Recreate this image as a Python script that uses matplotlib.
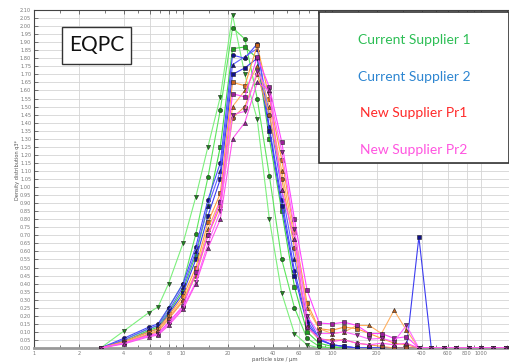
import matplotlib
matplotlib.use("Agg")
import matplotlib.pyplot as plt
from matplotlib.patches import Rectangle
from matplotlib.ticker import FixedLocator, NullFormatter, MultipleLocator

# particle size classes (µm)
sizes = [2.8, 4.0, 5.9, 6.8, 8.0, 10, 12.2, 14.7, 17.8, 21.5, 26, 31.5, 38, 46, 56, 68,
         82, 100, 121, 147, 178, 215, 261, 316, 383, 464, 562, 681, 825, 1000, 1212, 1468]

# Current Supplier 1 (green)
g1 = [0, 0.105, 0.22, 0.255, 0.40, 0.65, 0.94, 1.25, 1.56, 2.07, 1.70, 1.42, 0.80, 0.34, 0.09, 0.02,
      0, 0, 0, 0, 0, 0, 0, 0, 0, 0, 0, 0, 0, 0, 0, 0]
g2 = [0, 0.05, 0.12, 0.14, 0.25, 0.40, 0.71, 1.06, 1.48, 1.99, 1.92, 1.55, 1.07, 0.55, 0.25, 0.06,
      0.01, 0, 0, 0, 0, 0, 0, 0, 0, 0, 0, 0, 0, 0, 0, 0]
g3 = [0, 0.04, 0.11, 0.13, 0.22, 0.36, 0.58, 0.88, 1.25, 1.86, 1.87, 1.80, 1.30, 0.85, 0.38, 0.10,
      0.03, 0.01, 0, 0, 0, 0, 0, 0, 0, 0, 0, 0, 0, 0, 0, 0]
# Current Supplier 2 (blue)
b1 = [0, 0.06, 0.13, 0.15, 0.25, 0.40, 0.63, 0.92, 1.15, 1.82, 1.80, 1.89, 1.37, 0.92, 0.48, 0.17,
      0.055, 0.02, 0.01, 0, 0, 0, 0, 0, 0, 0, 0, 0, 0, 0, 0, 0]
b2 = [0, 0.05, 0.12, 0.14, 0.23, 0.38, 0.60, 0.88, 1.10, 1.76, 1.81, 1.86, 1.45, 0.98, 0.55, 0.20,
      0.06, 0.02, 0.01, 0, 0, 0, 0, 0, 0, 0, 0, 0, 0, 0, 0, 0]
b3 = [0, 0.04, 0.10, 0.12, 0.21, 0.34, 0.55, 0.82, 1.05, 1.70, 1.74, 1.80, 1.35, 0.88, 0.45, 0.15,
      0.05, 0.02, 0.01, 0, 0, 0, 0, 0, 0.69, 0, 0, 0, 0, 0, 0, 0]
# New Supplier Pr1 (orange)
o1 = [0, 0.04, 0.10, 0.12, 0.20, 0.32, 0.50, 0.78, 0.96, 1.65, 1.63, 1.88, 1.55, 1.17, 0.72, 0.28,
      0.12, 0.11, 0.13, 0.12, 0.09, 0.06, 0.03, 0.02, 0, 0, 0, 0, 0, 0, 0, 0]
o2 = [0, 0.035, 0.09, 0.11, 0.19, 0.30, 0.47, 0.74, 0.92, 1.50, 1.60, 1.75, 1.50, 1.10, 0.68, 0.25,
      0.12, 0.09, 0.10, 0.14, 0.14, 0.09, 0.235, 0.11, 0, 0, 0, 0, 0, 0, 0, 0]
o3 = [0, 0.03, 0.085, 0.10, 0.18, 0.29, 0.45, 0.70, 0.88, 1.43, 1.50, 1.70, 1.45, 1.05, 0.62, 0.13,
      0.055, 0.05, 0.05, 0.03, 0.02, 0.01, 0, 0, 0, 0, 0, 0, 0, 0, 0, 0]
# New Supplier Pr2 (magenta)
m1 = [0, 0.03, 0.08, 0.09, 0.16, 0.26, 0.47, 0.70, 0.91, 1.58, 1.56, 1.81, 1.62, 1.28, 0.80, 0.36,
      0.155, 0.15, 0.16, 0.14, 0.09, 0.09, 0.06, 0.07, 0, 0, 0, 0, 0, 0, 0, 0]
m2 = [0, 0.03, 0.075, 0.085, 0.15, 0.25, 0.41, 0.65, 0.85, 1.45, 1.47, 1.72, 1.58, 1.22, 0.74, 0.20,
      0.09, 0.09, 0.10, 0.08, 0.055, 0.06, 0.04, 0.14, 0, 0, 0, 0, 0, 0, 0, 0]
m3 = [0, 0.025, 0.07, 0.08, 0.14, 0.24, 0.40, 0.62, 0.80, 1.30, 1.40, 1.65, 1.60, 0.98, 0.68, 0.13,
      0.06, 0.04, 0.05, 0.03, 0.02, 0.03, 0.02, 0.03, 0, 0, 0, 0, 0, 0, 0, 0]

legend_labels = ["Current Supplier 1", "Current Supplier 2", "New Supplier Pr1", "New Supplier Pr2"]
x_tick_values = [1, 2, 4, 6, 8, 10, 20, 40, 60, 80, 100, 200, 400, 600, 800, 1000]
x_tick_labels = ["1", "2", "4", "6", "8", "10", "20", "40", "60", "80", "100", "200", "400", "600", "800", "1000"]

series = [
    (g1, "#7CF07C", "v", "#1E8C1E"), (g2, "#5CE65C", "o", "#1E8C1E"), (g3, "#44DD44", "s", "#1E9C1E"),
    (b1, "#4A4AFF", "o", "#10108A"), (b2, "#6060FF", "^", "#10108A"), (b3, "#3C3CF0", "s", "#10108A"),
    (o1, "#FFA040", "s", "#C8641E"), (o2, "#FFB060", "^", "#C8641E"), (o3, "#F59A50", "o", "#A0522D"),
    (m1, "#FF44FF", "s", "#9A209A"), (m2, "#FF66FF", "v", "#9A209A"), (m3, "#FF55EE", "^", "#9A209A"),
]

fig = plt.figure(figsize=(5.10, 3.64), dpi=100)
ax = fig.add_axes([34 / 510, 16 / 364, 1 - 34 / 510, 338 / 364])

for vals, lc, mk, mc in series:
    ax.plot(sizes, vals, color=lc, lw=0.8, marker=mk, ms=3.0, mfc=mc, mec="#222222", mew=0.4, zorder=3)

ax.set_xscale("log")
ax.set_xlim(1, 1566)
ax.set_ylim(0, 2.10)

ax.xaxis.set_major_locator(FixedLocator(x_tick_values))
ax.set_xticklabels(x_tick_labels)
ax.xaxis.set_minor_locator(FixedLocator([1.5, 3, 5, 7, 9, 15, 30, 50, 70, 90, 150, 300, 500, 700, 900, 1500]))
ax.xaxis.set_minor_formatter(NullFormatter())
ax.yaxis.set_major_locator(MultipleLocator(0.05))
ax.yaxis.set_major_formatter(plt.FuncFormatter(lambda v, p: f"{v:.2f}"))

ax.grid(True, which="major", axis="both", color="#d4d4d4", lw=0.6, zorder=0)
ax.tick_params(axis="both", which="both", direction="in", labelsize=3.6, labelcolor="#777777",
               color="#444444", width=0.5, top=True)
ax.tick_params(axis="both", which="major", length=3, pad=2)
ax.tick_params(axis="x", which="minor", length=2)

for s in ["left", "top"]:
    ax.spines[s].set_color("#444444")
    ax.spines[s].set_linewidth(0.8)
ax.spines["bottom"].set_color("#999999")
ax.spines["bottom"].set_linewidth(2.0)
ax.spines["right"].set_visible(False)

fig.text(18 / 510, 1 - 170 / 364, "Density distribution q3*", rotation=90, fontsize=3.6,
         color="#555555", ha="center", va="center")
fig.text(275 / 510, 1 - 359 / 364, "particle size / µm", fontsize=3.8, color="#555555",
         ha="center", va="center")

# EQPC box
fig.patches.append(Rectangle((62 / 510, 1 - 64 / 364), 69 / 510, 37 / 364, transform=fig.transFigure,
                             facecolor="white", edgecolor="#333333", lw=1.0, zorder=5))
fig.text(96.5 / 510, 1 - 45.5 / 364, "EQPC", fontsize=15, family="Lato", color="#111111",
         ha="center", va="center", zorder=6)

# legend box
fig.patches.append(Rectangle((319 / 510, 1 - 163 / 364), 190 / 510, 151 / 364, transform=fig.transFigure,
                             facecolor="white", edgecolor="#333333", lw=1.2, zorder=5))
leg_colors = ["#2DBE55", "#2E86D1", "#FF2A2A", "#FF55E0"]
leg_y = [40, 77, 113, 150]
for lab, c, yy in zip(legend_labels, leg_colors, leg_y):
    fig.text(414 / 510, 1 - yy / 364, lab, fontsize=10, family="Lato", color=c,
             ha="center", va="center", zorder=6)

fig.savefig("out.png", dpi=100)
